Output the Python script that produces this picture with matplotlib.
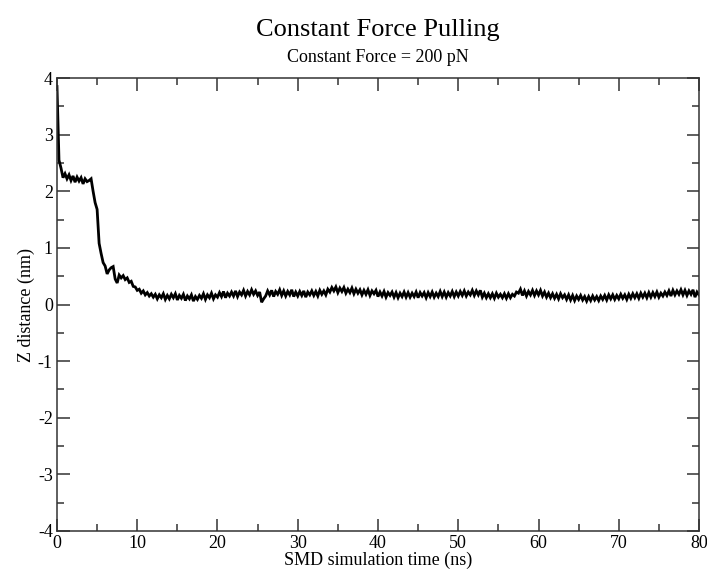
import numpy as np
import matplotlib
matplotlib.use('Agg')
import matplotlib.pyplot as plt
from matplotlib.ticker import MultipleLocator

# Z distance (nm), one sample every 0.25 ns from 0 to 80 ns
z_distance = [
    3.85, 2.55, 2.41, 2.24, 2.31, 2.22, 2.29, 2.19,   # 0-2
    2.27, 2.16, 2.25, 2.18, 2.24, 2.13, 2.22, 2.17,   # 2-4
    2.19, 2.22, 2.00, 1.80, 1.68, 1.08, 0.90, 0.74,   # 4-6
    0.68, 0.54, 0.61, 0.65, 0.67, 0.45, 0.38, 0.52,   # 6-8
    0.47, 0.51, 0.44, 0.47, 0.39, 0.41, 0.32, 0.31,   # 8-10
    0.25, 0.27, 0.20, 0.24, 0.17, 0.21, 0.15, 0.19,   # 10-12
    0.13, 0.18, 0.10, 0.17, 0.12, 0.19, 0.09, 0.16,   # 12-14
    0.10, 0.18, 0.12, 0.19, 0.08, 0.16, 0.11, 0.18,   # 14-16
    0.07, 0.15, 0.10, 0.17, 0.06, 0.14, 0.09, 0.16,   # 16-18
    0.11, 0.19, 0.09, 0.17, 0.12, 0.20, 0.10, 0.17,   # 18-20
    0.13, 0.21, 0.14, 0.23, 0.12, 0.20, 0.15, 0.22,   # 20-22
    0.15, 0.24, 0.14, 0.22, 0.17, 0.25, 0.15, 0.23,   # 22-24
    0.17, 0.26, 0.18, 0.24, 0.16, 0.22, 0.04, 0.10,   # 24-26
    0.15, 0.24, 0.17, 0.25, 0.14, 0.23, 0.18, 0.26,   # 26-28
    0.16, 0.24, 0.15, 0.23, 0.17, 0.26, 0.14, 0.22,   # 28-30
    0.15, 0.23, 0.16, 0.24, 0.13, 0.22, 0.17, 0.24,   # 30-32
    0.16, 0.23, 0.15, 0.25, 0.18, 0.24, 0.17, 0.27,   # 32-34
    0.22, 0.30, 0.24, 0.31, 0.21, 0.29, 0.23, 0.30,   # 34-36
    0.20, 0.27, 0.21, 0.29, 0.19, 0.27, 0.20, 0.26,   # 36-38
    0.17, 0.25, 0.18, 0.26, 0.16, 0.24, 0.19, 0.25,   # 38-40
    0.14, 0.22, 0.15, 0.23, 0.13, 0.21, 0.16, 0.22,   # 40-42
    0.13, 0.21, 0.12, 0.20, 0.14, 0.22, 0.13, 0.21,   # 42-44
    0.13, 0.20, 0.14, 0.22, 0.12, 0.21, 0.15, 0.21,   # 44-46
    0.12, 0.21, 0.14, 0.22, 0.13, 0.20, 0.14, 0.23,   # 46-48
    0.14, 0.22, 0.13, 0.21, 0.15, 0.23, 0.14, 0.22,   # 48-50
    0.15, 0.23, 0.16, 0.24, 0.15, 0.22, 0.17, 0.25,   # 50-52
    0.16, 0.24, 0.17, 0.25, 0.13, 0.20, 0.12, 0.19,   # 52-54
    0.12, 0.19, 0.11, 0.20, 0.13, 0.18, 0.12, 0.19,   # 54-56
    0.11, 0.19, 0.12, 0.18, 0.15, 0.22, 0.20, 0.27,   # 56-58
    0.16, 0.24, 0.15, 0.23, 0.17, 0.25, 0.16, 0.24,   # 58-60
    0.17, 0.25, 0.15, 0.22, 0.13, 0.20, 0.12, 0.19,   # 60-62
    0.11, 0.18, 0.10, 0.19, 0.12, 0.17, 0.09, 0.17,   # 62-64
    0.08, 0.16, 0.07, 0.15, 0.09, 0.16, 0.08, 0.14,   # 64-66
    0.06, 0.14, 0.07, 0.15, 0.08, 0.14, 0.07, 0.15,   # 66-68
    0.09, 0.16, 0.08, 0.17, 0.10, 0.17, 0.09, 0.16,   # 68-70
    0.10, 0.18, 0.11, 0.17, 0.09, 0.18, 0.11, 0.19,   # 70-72
    0.12, 0.19, 0.11, 0.20, 0.13, 0.20, 0.12, 0.21,   # 72-74
    0.13, 0.21, 0.14, 0.22, 0.13, 0.20, 0.15, 0.22,   # 74-76
    0.16, 0.24, 0.15, 0.25, 0.17, 0.24, 0.18, 0.26,   # 76-78
    0.17, 0.25, 0.16, 0.24, 0.18, 0.26, 0.13, 0.22,   # 78-80
    0.17,
]
time_ns = np.linspace(0, 80, len(z_distance))

title = 'Constant Force Pulling'
subtitle = 'Constant Force = 200 pN'
x_label = 'SMD simulation time (ns)'
y_label = 'Z distance (nm)'

plt.rcParams['font.family'] = ['Liberation Serif', 'DejaVu Serif']
plt.rcParams['axes.unicode_minus'] = False  # grace-style plain hyphen

fig = plt.figure(figsize=(7.07, 5.69), dpi=100)
ax = fig.add_axes([0.0806, 0.0668, 0.9081, 0.7961])

ax.plot(time_ns, z_distance, color='black', linewidth=2.0, solid_joinstyle='miter')

ax.set_xlim(0, 80)
ax.set_ylim(-4, 4)
ax.xaxis.set_major_locator(MultipleLocator(10))
ax.xaxis.set_minor_locator(MultipleLocator(5))
ax.yaxis.set_major_locator(MultipleLocator(1))
ax.yaxis.set_minor_locator(MultipleLocator(0.5))

ax.tick_params(which='both', direction='in', top=True, right=True,
               labelsize=13, color='#333333', width=1.1)
ax.tick_params(which='major', length=9, pad=3)
ax.tick_params(which='minor', length=4.8)
for spine in ax.spines.values():
    spine.set_linewidth(1.1)
    spine.set_color('#333333')

ax.set_xlabel(x_label, fontsize=13, labelpad=0)
ax.set_ylabel(y_label, fontsize=13, labelpad=2)

cx = 0.0806 + 0.9081 / 2
fig.text(cx, 1 - 36 / 569, title, fontsize=19, ha='center', va='baseline')
fig.text(cx, 1 - 62 / 569, subtitle, fontsize=13, ha='center', va='baseline')

fig.savefig('out.png', dpi=100)
